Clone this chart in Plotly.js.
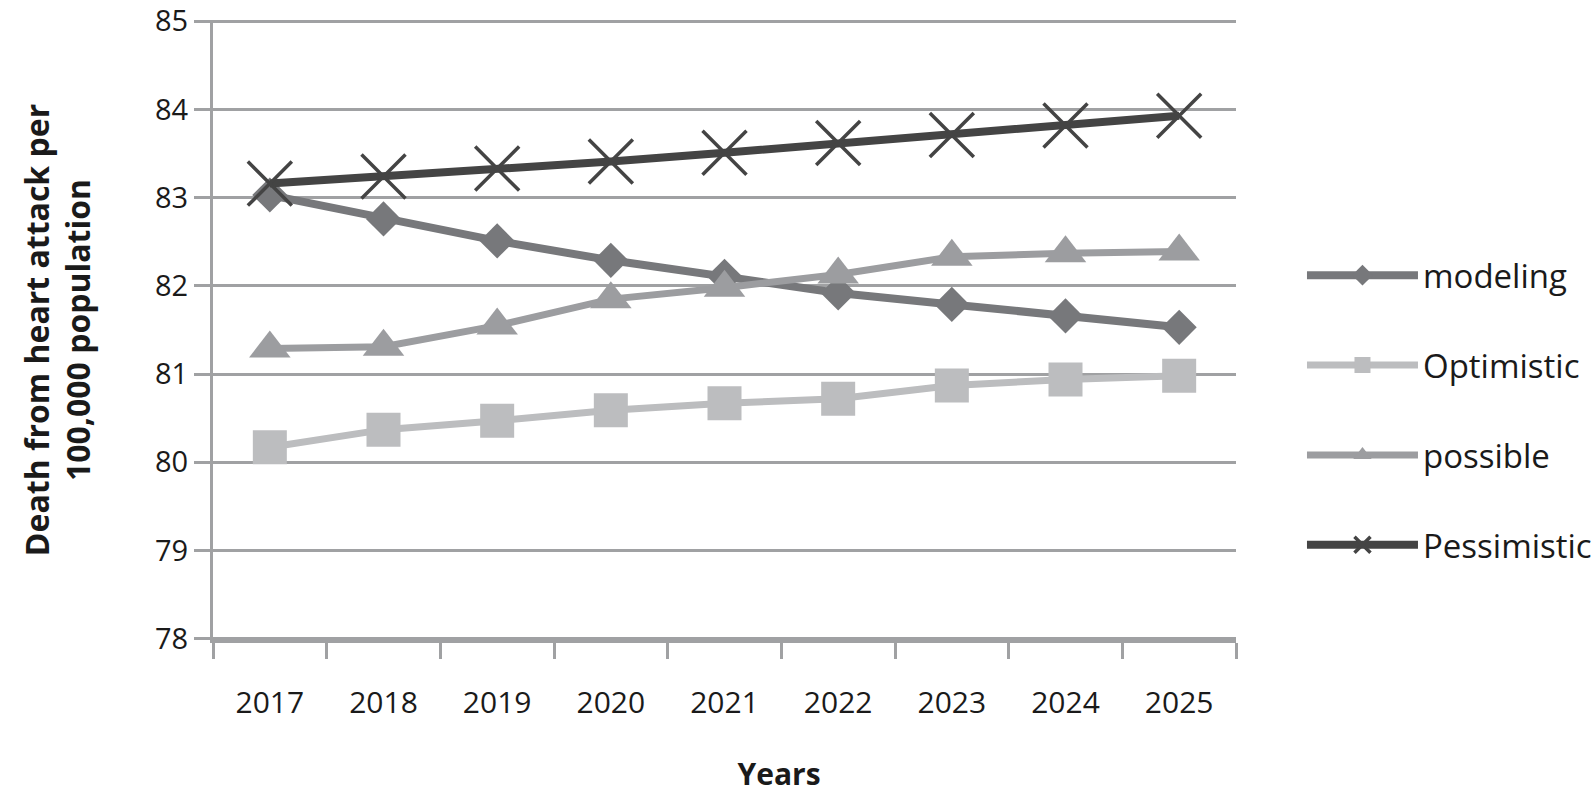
<!DOCTYPE html>
<html>
<head>
<meta charset="utf-8">
<script src="https://cdn.plot.ly/plotly-3.0.1.min.js"></script>
<style>html,body{margin:0;padding:0;background:#fff;}#chart{width:1594px;height:799px;}</style>
</head>
<body>
<div id="chart"></div>
<script>
const years = ["2017","2018","2019","2020","2021","2022","2023","2024","2025"];
const modeling    = [83.03, 82.76, 82.51, 82.29, 82.11, 81.92, 81.79, 81.66, 81.53];
const optimistic  = [80.17, 80.37, 80.47, 80.59, 80.67, 80.72, 80.87, 80.94, 80.98];
const possible    = [81.29, 81.31, 81.55, 81.85, 81.98, 82.13, 82.33, 82.37, 82.39];
const pessimistic = [83.16, 83.24, 83.33, 83.41, 83.51, 83.62, 83.71, 83.82, 83.93];
const yTicks = [78, 79, 80, 81, 82, 83, 84, 85];

const FONT = "Open Sans, Noto Sans, sans-serif";
const GRID = "#a0a1a3";

const traces = [
  {name: "modeling", y: modeling, color: "#77787b", symbol: "diamond", size: 27, lw: 8},
  {name: "Optimistic", y: optimistic, color: "#bcbdbf", symbol: "square", size: 34, lw: 7},
  {name: "possible", y: possible, color: "#9c9da0", symbol: "triangle-up", size: 36, lw: 7},
  {name: "Pessimistic", y: pessimistic, color: "#444444", symbol: "x-thin", size: 44, lw: 8}
].map((t, i) => ({
  type: "scatter", mode: "lines+markers", name: t.name, x: years, y: t.y,
  legendgroup: "g" + i,
  line: {color: t.color, width: t.lw},
  marker: t.symbol === "x-thin"
    ? {symbol: t.symbol, size: t.size, color: t.color, line: {color: t.color, width: 3.5}}
    : {symbol: t.symbol, size: t.size, color: t.color, line: {width: 0}},
  cliponaxis: false
}));

const layout = {
  width: 1594, height: 799,
  margin: {l: 213, r: 358, t: 20, b: 159},
  paper_bgcolor: "#fff", plot_bgcolor: "#fff",
  font: {family: FONT, color: "#1a1a1a", size: 30},
  showlegend: true,
  legend: {
    xref: "container", yref: "container",
    x: 0.8168, xanchor: "left", y: 0.4866, yanchor: "middle",
    font: {family: FONT, size: 33, color: "#1a1a1a"},
    tracegroupgap: 44, itemwidth: 111, bgcolor: "rgba(0,0,0,0)"
  },
  xaxis: {
    type: "category", range: [-0.5, 8.5],
    tickson: "boundaries", ticks: "outside", ticklen: 16, tickwidth: 3, tickcolor: GRID,
    showline: true, linecolor: GRID, linewidth: 3,
    showgrid: false, zeroline: false,
    ticklabelstandoff: 34,
    tickfont: {family: FONT, size: 30, color: "#1a1a1a"},
    title: {text: "&nbsp;&nbsp;&nbsp;&nbsp;&nbsp;&nbsp;&nbsp;&nbsp;&nbsp;&nbsp;&nbsp;&nbsp;&nbsp;&nbsp;<b>Years</b>", font: {family: FONT, size: 30, color: "#1a1a1a"}, standoff: 43}
  },
  yaxis: {
    range: [77.985, 85.015], tickvals: yTicks, ticktext: yTicks.map(String),
    ticklabeloverflow: "allow",
    ticks: "outside", ticklen: 16, tickwidth: 3, tickcolor: GRID,
    showline: true, linecolor: GRID, linewidth: 3,
    showgrid: true, gridcolor: GRID, gridwidth: 3, zeroline: false,
    tickfont: {family: FONT, size: 29, color: "#1a1a1a"},
    title: {text: "<b>Death from heart attack per<br>100,000 population</b>", font: {family: FONT, size: 32, color: "#1a1a1a"}, standoff: 55}
  }
};

Plotly.newPlot("chart", traces, layout, {displayModeBar: false, staticPlot: true});
</script>
</body>
</html>
